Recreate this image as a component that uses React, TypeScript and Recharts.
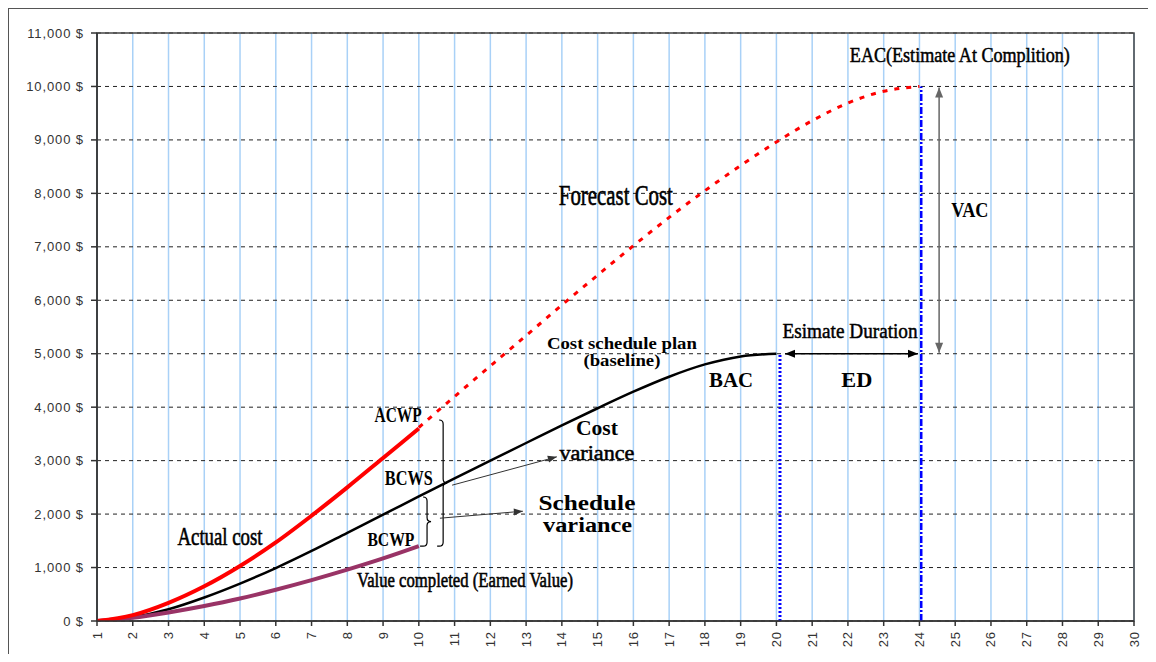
import React from 'react';
import {
  ComposedChart,
  Line,
  XAxis,
  YAxis,
  CartesianGrid,
  ReferenceLine,
  ReferenceDot,
  ReferenceArea,
} from 'recharts';

// Time axis (periods) and cost axis ticks
const periodTicks = [1, 2, 3, 4, 5, 6, 7, 8, 9, 10, 11, 12, 13, 14, 15, 16, 17, 18, 19, 20, 21, 22, 23, 24, 25, 26, 27, 28, 29, 30];
const costTicks = [0, 1000, 2000, 3000, 4000, 5000, 6000, 7000, 8000, 9000, 10000, 11000];

// Cost schedule plan (baseline, BCWS)
const planPeriods = [1, 2, 3, 4, 5, 6, 7, 8, 9, 10, 11, 12, 13, 14, 15, 16, 17, 18, 19, 20];
const planCost = [0, 70, 220, 440, 700, 990, 1310, 1650, 1990, 2330, 2670, 3000, 3330, 3660, 3980, 4290, 4570, 4800, 4950, 5000];

// Actual cost (ACWP)
const actualPeriods = [1, 2, 3, 4, 5, 6, 7, 8, 9, 10];
const actualCost = [0, 110, 340, 650, 1030, 1470, 1970, 2500, 3050, 3600];

// Value completed (earned value, BCWP)
const earnedPeriods = [1, 2, 3, 4, 5, 6, 7, 8, 9, 10];
const earnedCost = [0, 60, 160, 280, 420, 585, 765, 960, 1170, 1400];

// Forecast cost up to the estimate at completion
const forecastPeriods = [10, 11, 12, 13, 14, 15, 16, 17, 18, 19, 20, 21, 22, 23, 24];
const forecastCost = [3620, 4200, 4770, 5340, 5910, 6470, 7020, 7550, 8050, 8520, 8960, 9360, 9690, 9910, 10000];

// Key values
const BAC = 5000;
const EAC = 10000;
const planEnd = 20.1;
const forecastEnd = 24.05;

const toRows = (xs: number[], ys: number[]) => xs.map((x, i) => ({ period: x, cost: ys[i] }));
const planData = toRows(planPeriods, planCost);
const actualData = toRows(actualPeriods, actualCost);
const earnedData = toRows(earnedPeriods, earnedCost);
const forecastData = toRows(forecastPeriods, forecastCost);

const SANS = "'Liberation Sans', Arial, sans-serif";
const SERIF = "'Liberation Serif', 'Times New Roman', serif";

const formatCost = (v: number) => `${v.toLocaleString('en-US')} $`;

const YTick = (p: any) => (
  <text
    x={p.x}
    y={p.y}
    textAnchor="end"
    dominantBaseline="central"
    fontFamily={SANS}
    fontSize={13}
    letterSpacing={0.9}
    fill="#333"
  >
    {formatCost(p.payload.value)}
  </text>
);

const XTick = (p: any) => (
  <text
    x={p.x}
    y={p.y}
    transform={`rotate(-90 ${p.x} ${p.y})`}
    textAnchor="end"
    dominantBaseline="central"
    fontFamily={SANS}
    fontSize={13}
    letterSpacing={0.9}
    fill="#333"
  >
    {p.payload.value}
  </text>
);

// Annotation text anchored at a data point (baseline, centred)
const note =
  (text: string, size: number, width: number, weight: string = 'bold', thicken = 0) =>
  (p: any) =>
    (
      <text
        x={p.cx}
        y={p.cy}
        fontFamily={SERIF}
        fontSize={size}
        fontWeight={weight}
        textAnchor="middle"
        textLength={width}
        lengthAdjust="spacingAndGlyphs"
        fill="#000"
        stroke={thicken ? '#000' : 'none'}
        strokeWidth={thicken}
      >
        {text}
      </text>
    );

const head = (x: number, y: number, ang: number, color: string, len = 9, half = 3.5) => {
  const bx = x - len * Math.cos(ang);
  const by = y - len * Math.sin(ang);
  const px = -Math.sin(ang) * half;
  const py = Math.cos(ang) * half;
  return <polygon points={`${x},${y} ${bx + px},${by + py} ${bx - px},${by - py}`} fill={color} />;
};

// Arrow along a segment; heads at the end, optionally at both ends
const arrow =
  (color: string, width: number, both: boolean, len = 9, half = 3.5) =>
  (p: any) => {
    const { x1, y1, x2, y2 } = p;
    const ang = Math.atan2(y2 - y1, x2 - x1);
    return (
      <g>
        <line x1={x1} y1={y1} x2={x2} y2={y2} stroke={color} strokeWidth={width} />
        {head(x2, y2, ang, color, len, half)}
        {both ? head(x1, y1, ang + Math.PI, color, len, half) : null}
      </g>
    );
  };

// Curly brace "}" along a vertical segment
const brace = (hook: number) => (p: any) => {
  const x = p.x1;
  const top = Math.min(p.y1, p.y2);
  const bot = Math.max(p.y1, p.y2);
  const mid = (top + bot) / 2;
  const r = 4;
  const d = [
    `M ${x - r} ${top}`,
    `Q ${x} ${top} ${x} ${top + r}`,
    `L ${x} ${mid - r}`,
    `Q ${x} ${mid} ${x + r} ${mid}`,
    `Q ${x} ${mid} ${x} ${mid + r}`,
    `L ${x} ${bot - r}`,
    `Q ${x} ${bot} ${x - r} ${bot}`,
    `L ${x - hook} ${bot}`,
  ].join(' ');
  return <path d={d} fill="none" stroke="#000" strokeWidth={1.2} />;
};

const vline = (color: string, width: number, dash: string) => (p: any) =>
  <line x1={p.x1} y1={p.y1} x2={p.x2} y2={p.y2} stroke={color} strokeWidth={width} strokeDasharray={dash} />;

export default function App() {
  return (
    <div style={{ position: 'relative', width: 1140, height: 646, overflow: 'hidden' }}>
      <div
        style={{
          position: 'absolute',
          left: -1,
          top: -1,
          width: 1200,
          height: 700,
          borderTop: '2px solid #555',
          borderLeft: '2px solid #555',
          boxSizing: 'border-box',
        }}
      />
      <ComposedChart
        width={1140}
        height={646}
        margin={{ top: 25, right: 14, bottom: 3, left: 10 }}
        style={{ position: 'relative' }}
      >
        <CartesianGrid horizontal={false} vertical stroke="#a9d1f7" strokeWidth={1.5} />
        <CartesianGrid horizontal vertical={false} stroke="#222" strokeWidth={1} strokeDasharray="4 4" />
        <XAxis
          dataKey="period"
          type="number"
          domain={[1, 30]}
          ticks={periodTicks}
          interval={0}
          allowDataOverflow
          height={30}
          tickSize={5}
          tickMargin={5}
          tick={XTick}
          stroke="#333"
          strokeWidth={1.5}
        />
        <YAxis
          type="number"
          domain={[0, 11000]}
          ticks={costTicks}
          interval={0}
          allowDataOverflow
          width={79}
          tickSize={6}
          tickMargin={7}
          tick={YTick}
          stroke="#333"
          strokeWidth={1.5}
        />
        <ReferenceArea x1={1} x2={30} y1={0} y2={11000} fill="none" stroke="#444" strokeWidth={1.5} />

        <ReferenceLine
          segment={[{ x: planEnd, y: 0 }, { x: planEnd, y: BAC }]}
          shape={vline('#0000ff', 3, '2 2')}
        />
        <ReferenceLine
          segment={[{ x: forecastEnd, y: 0 }, { x: forecastEnd, y: EAC }]}
          shape={vline('#0000ff', 2.5, '7 2 2 2')}
        />

        <Line
          data={forecastData}
          dataKey="cost"
          type="monotone"
          stroke="#ff0000"
          strokeWidth={3}
          strokeDasharray="5 7"
          dot={false}
          activeDot={false}
          isAnimationActive={false}
        />
        <Line
          data={planData}
          dataKey="cost"
          type="monotone"
          stroke="#000"
          strokeWidth={2.5}
          dot={false}
          activeDot={false}
          isAnimationActive={false}
        />
        <Line
          data={earnedData}
          dataKey="cost"
          type="monotone"
          stroke="#993366"
          strokeWidth={4}
          dot={false}
          activeDot={false}
          isAnimationActive={false}
        />
        <Line
          data={actualData}
          dataKey="cost"
          type="monotone"
          stroke="#ff0000"
          strokeWidth={4}
          dot={false}
          activeDot={false}
          isAnimationActive={false}
        />

        {/* Estimate duration and variance at completion */}
        <ReferenceLine
          segment={[{ x: 20.24, y: BAC }, { x: 23.96, y: BAC }]}
          shape={arrow('#000', 1.6, true, 10, 4)}
        />
        <ReferenceLine
          segment={[{ x: 24.55, y: BAC + 20 }, { x: 24.55, y: EAC - 20 }]}
          shape={arrow('#666', 1.5, true, 10, 4)}
        />

        {/* Variance braces and pointers */}
        <ReferenceLine segment={[{ x: 10.68, y: 3760 }, { x: 10.68, y: 1400 }]} shape={brace(6)} />
        <ReferenceLine segment={[{ x: 10.23, y: 2320 }, { x: 10.23, y: 1400 }]} shape={brace(7)} />
        <ReferenceLine
          segment={[{ x: 10.93, y: 2541 }, { x: 13.86, y: 3071 }]}
          shape={arrow('#333', 1, false, 9, 3.5)}
        />
        <ReferenceLine
          segment={[{ x: 10.59, y: 1923 }, { x: 12.91, y: 2054 }]}
          shape={arrow('#333', 1, false, 9, 3.5)}
        />

        {/* Annotations */}
        <ReferenceDot x={25.13} y={10460} r={0} shape={note('EAC(Estimate At Complition)', 21, 220, 'normal', 0.5)} />
        <ReferenceDot x={15.51} y={7785} r={0} shape={note('Forecast Cost', 30, 114, 'normal', 0.6)} />
        <ReferenceDot x={15.68} y={5080} r={0} shape={note('Cost schedule plan', 16.5, 150)} />
        <ReferenceDot x={15.68} y={4765} r={0} shape={note('(baseline)', 16.5, 77)} />
        <ReferenceDot x={18.73} y={4376} r={0} shape={note('BAC', 22, 44)} />
        <ReferenceDot x={22.25} y={4376} r={0} shape={note('ED', 22, 31)} />
        <ReferenceDot x={22.06} y={5294} r={0} shape={note('Esimate Duration', 22, 135, 'normal', 0.5)} />
        <ReferenceDot x={25.41} y={7560} r={0} shape={note('VAC', 21, 37)} />
        <ReferenceDot x={9.42} y={3727} r={0} shape={note('ACWP', 20, 47)} />
        <ReferenceDot x={9.72} y={2541} r={0} shape={note('BCWS', 20, 48)} />
        <ReferenceDot x={9.22} y={1404} r={0} shape={note('BCWP', 19, 47)} />
        <ReferenceDot x={14.98} y={3478} r={0} shape={note('Cost', 20, 42)} />
        <ReferenceDot x={14.98} y={3009} r={0} shape={note('variance', 20, 75, 'normal', 0.5)} />
        <ReferenceDot x={14.7} y={2073} r={0} shape={note('Schedule', 20, 97)} />
        <ReferenceDot x={14.72} y={1661} r={0} shape={note('variance', 20, 89)} />
        <ReferenceDot x={11.29} y={630} r={0} shape={note('Value completed (Earned Value)', 22, 216, 'normal', 0.6)} />
        <ReferenceDot x={4.44} y={1418} r={0} shape={note('Actual cost', 25, 85, 'normal', 0.6)} />
      </ComposedChart>
    </div>
  );
}
